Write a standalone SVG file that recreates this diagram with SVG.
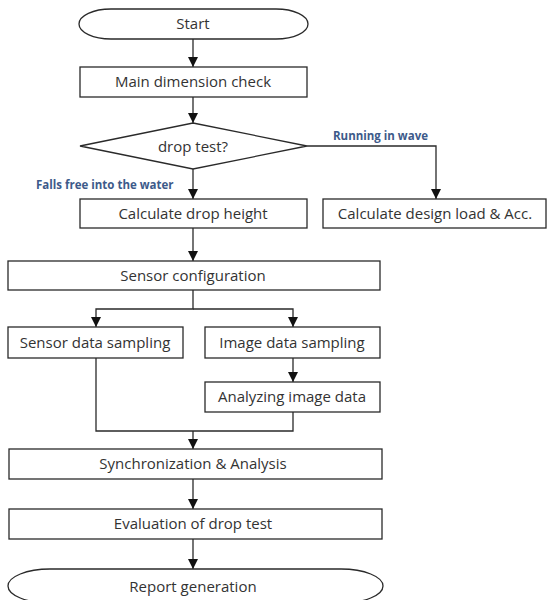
<svg xmlns="http://www.w3.org/2000/svg" width="547" height="600" viewBox="0 0 547 600">
<style>
.box{fill:#fff;stroke:#2a2a2a;stroke-width:1.3}
.t{font-family:"Open Sans","Noto Sans",sans-serif;font-size:15px;fill:#333;text-anchor:middle;dominant-baseline:central}
.lbl{font-family:"Open Sans","Noto Sans",sans-serif;font-size:11.5px;font-weight:bold;fill:#3d5a8a}
.c{fill:none;stroke:#2a2a2a;stroke-width:1.3}
</style>
<defs>
<marker id="ah" markerUnits="userSpaceOnUse" markerWidth="12" markerHeight="10" refX="10" refY="5" orient="auto">
<path d="M0,0 L10,5 L0,10 Z" fill="#111"/>
</marker>
</defs>
<rect width="547" height="600" fill="#fff"/>
<g id="connectors">
<path class="c" d="M193,39 V67" marker-end="url(#ah)"/>
<path class="c" d="M193,97 V123" marker-end="url(#ah)"/>
<path class="c" d="M193,169 V199" marker-end="url(#ah)"/>
<path class="c" d="M307,146 H436 V199" marker-end="url(#ah)"/>
<path class="c" d="M193,228 V261" marker-end="url(#ah)"/>
<path class="c" d="M193,290 V309 H96 V327" marker-end="url(#ah)"/>
<path class="c" d="M193,309 H293 V327" marker-end="url(#ah)"/>
<path class="c" d="M293,358 V382" marker-end="url(#ah)"/>
<path class="c" d="M96,358 V431 H293 V412"/>
<path class="c" d="M193,431 V449" marker-end="url(#ah)"/>
<path class="c" d="M193,479 V509" marker-end="url(#ah)"/>
<path class="c" d="M193,539 V569" marker-end="url(#ah)"/>
</g>
<g id="lbl-wave"><text class="lbl" x="333" y="140">Running in wave</text></g>
<g id="lbl-free"><text class="lbl" x="36" y="189">Falls free into the water</text></g>
<g id="start"><rect class="box" x="79" y="9" width="229" height="30" rx="32" ry="15"/><text class="t" x="193" y="23">Start</text></g>
<g id="main"><rect class="box" x="80" y="67" width="227" height="30"/><text class="t" x="193" y="81">Main dimension check</text></g>
<g id="drop"><polygon class="box" points="193,123 307,146 193,169 80,146"/><text class="t" x="193" y="146">drop test?</text></g>
<g id="height"><rect class="box" x="80" y="199" width="227" height="29"/><text class="t" x="193" y="213">Calculate drop height</text></g>
<g id="design"><rect class="box" x="323" y="199" width="223" height="29"/><text class="t" x="435" y="213">Calculate design load &amp; Acc.</text></g>
<g id="sensorcfg"><rect class="box" x="8" y="261" width="372" height="29"/><text class="t" x="193" y="275">Sensor configuration</text></g>
<g id="sensorsamp"><rect class="box" x="8" y="327" width="175" height="31"/><text class="t" x="95" y="342">Sensor data sampling</text></g>
<g id="imagesamp"><rect class="box" x="205" y="327" width="175" height="31"/><text class="t" x="292" y="342">Image data sampling</text></g>
<g id="analyze"><rect class="box" x="205" y="382" width="175" height="30"/><text class="t" x="292" y="396">Analyzing image data</text></g>
<g id="sync"><rect class="box" x="9" y="449" width="373" height="30"/><text class="t" x="193" y="463">Synchronization &amp; Analysis</text></g>
<g id="eval"><rect class="box" x="9" y="509" width="373" height="30"/><text class="t" x="193" y="523">Evaluation of drop test</text></g>
<g id="report"><rect class="box" x="8" y="569" width="375" height="34" rx="42" ry="17"/><text class="t" x="193" y="586">Report generation</text></g>
</svg>
